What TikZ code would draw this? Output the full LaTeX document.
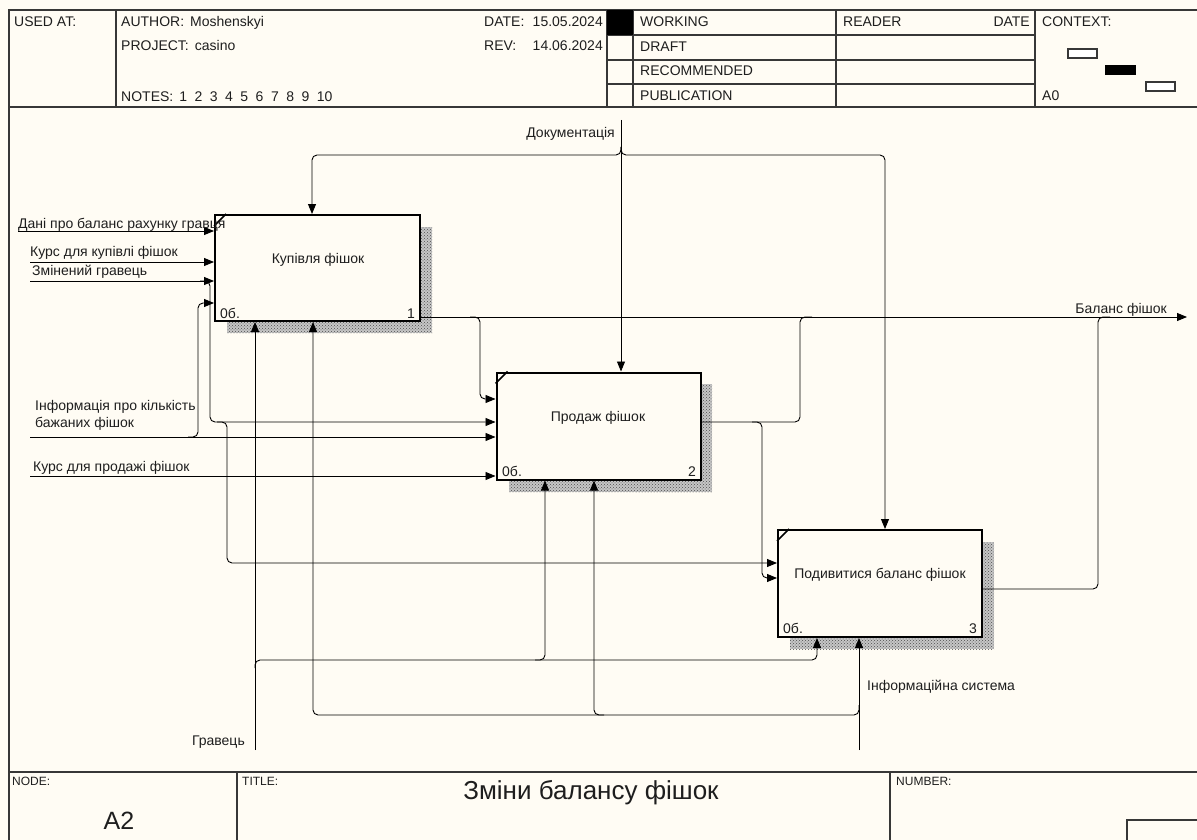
\documentclass[tikz,border=0pt]{standalone}
\usepackage{fontspec}
\setmainfont{Liberation Sans}
\usetikzlibrary{arrows.meta,patterns,calc}
\definecolor{bg}{RGB}{255,252,244}
\definecolor{frm}{RGB}{55,55,55}
\definecolor{txt}{RGB}{30,30,30}
\begin{document}
\begin{tikzpicture}[x=1pt,y=-1pt,
  lbl/.style={font=\fontsize{14}{16}\selectfont, text=txt, inner sep=0pt, anchor=base west},
  lble/.style={lbl, anchor=base east},
  lblc/.style={font=\fontsize{14}{16}\selectfont, text=txt, inner sep=0pt, anchor=center},
  small/.style={font=\fontsize{12}{14}\selectfont, text=txt, inner sep=0pt, anchor=base west},
  grid/.style={draw=frm, line width=1.3pt},
  box/.style={draw=black, line width=2pt, fill=bg, inner sep=0pt},
  shadebase/.style={fill=gray!45},
  shade/.style={pattern=crosshatch dots, pattern color=black!70},
  conn/.style={draw=black, line width=0.9pt, rounded corners=5pt},
  arr/.style={conn, -{Triangle[length=10pt,width=8pt]}},
  diag/.style={draw=black, line width=1.6pt}]
\fill[bg] (0,0) rectangle (1197,840);
\useasboundingbox (0,0) rectangle (1197,840);

% ---------- frame ----------
\draw[grid] (9,840) -- (9,10) -- (1197,10);
\draw[grid] (9,107) -- (1197,107);
\draw[grid] (9,772) -- (1197,772);
\draw[grid] (116,10) -- (116,107);
\draw[grid] (607,10) -- (607,107);
\draw[grid] (633,10) -- (633,107);
\draw[grid] (836,10) -- (836,107);
\draw[grid] (1035,10) -- (1035,107);
\draw[grid] (607,35) -- (1035,35);
\draw[grid] (607,60) -- (1035,60);
\draw[grid] (607,84) -- (1035,84);
\fill[black] (607,10) rectangle (633,35);
\draw[grid] (237,772) -- (237,840);
\draw[grid] (890,772) -- (890,840);
\draw[grid] (1127,840) -- (1127,820) -- (1197,820);

% ---------- header text ----------
\node[lbl] (usedat) at (14,27) {USED AT:};
\node[lbl] (author) at (121,27) {AUTHOR:\hspace{6pt}Moshenskyi};
\node[lbl] (project) at (121,51) {PROJECT:\hspace{6pt}casino};
\node[lbl] (notes) at (121,102) {NOTES:\hspace{6pt}1\hspace{7.5pt}2\hspace{7.5pt}3\hspace{7.5pt}4\hspace{7.5pt}5\hspace{7.5pt}6\hspace{7.5pt}7\hspace{7.5pt}8\hspace{7.5pt}9\hspace{7.5pt}10};
\node[lbl] (datel) at (484,27) {DATE:};
\node[lble] (datev) at (603,27) {15.05.2024};
\node[lbl] (revl) at (484,51) {REV:};
\node[lble] (revv) at (603,51) {14.06.2024};
\node[lbl] (working) at (640,27) {WORKING};
\node[lbl] (draft) at (640,52) {DRAFT};
\node[lbl] (recom) at (640,76) {RECOMMENDED};
\node[lbl] (publ) at (640,101) {PUBLICATION};
\node[lbl] (reader) at (843,27) {READER};
\node[lble] (rdate) at (1030,27) {DATE};
\node[lbl] (context) at (1042,27) {CONTEXT:};
\node[lbl] (a0) at (1042,101) {A0};
\draw[draw=frm, line width=1.2pt, fill=white] (1068,49) rectangle (1097,58);
\fill[black] (1105,65) rectangle (1136,75);
\draw[draw=frm, line width=1.2pt, fill=white] (1146,82) rectangle (1175,91);

% ---------- footer ----------
\node[small] (nodel) at (12,785) {NODE:};
\node[small] (titlel) at (242,785) {TITLE:};
\node[small] (numl) at (896,785) {NUMBER:};
\node[font=\fontsize{25}{30}\selectfont, text=txt, inner sep=0pt, anchor=base] (a2) at (119,829) {A2};
\node[font=\fontsize{26}{30}\selectfont, text=txt, inner sep=0pt, anchor=base] (title) at (591,799) {Зміни балансу фішок};

% ---------- boxes ----------
\fill[shadebase] (227,227) rectangle (432,333);
\fill[shadebase] (509,384) rectangle (712,492);
\fill[shadebase] (790,542) rectangle (994,649);
\fill[shade] (227,227) rectangle (432,333);
\fill[shade] (509,384) rectangle (712,492);
\fill[shade] (790,542) rectangle (994,649);
\node[box, minimum width=205pt, minimum height=106pt] (b1) at (317.5,268) {};
\node[box, minimum width=204pt, minimum height=107pt] (b2) at (598.5,426) {};
\node[box, minimum width=204pt, minimum height=107pt] (b3) at (880,583.5) {};
\draw[diag] ([yshift=-12pt]b1.north west) -- ([xshift=12pt]b1.north west);
\draw[diag] ([yshift=-12pt]b2.north west) -- ([xshift=12pt]b2.north west);
\draw[diag] ([yshift=-12pt]b3.north west) -- ([xshift=12pt]b3.north west);
\node[lblc] (t1) at (318,260) {Купівля фішок};
\node[lblc] (t2) at (598,418) {Продаж фішок};
\node[lblc] (t3) at (880,575) {Подивитися баланс фішок};
\node[lbl] (c1) at (220,318) {0б.};
\node[lble] (n1) at (415,318) {1};
\node[lbl] (c2) at (502,476) {0б.};
\node[lble] (n2) at (696,476) {2};
\node[lbl] (c3) at (783,633) {0б.};
\node[lble] (n3) at (977,633) {3};

% ---------- inputs ----------
\coordinate (i1) at (18,231);
\coordinate (i2) at (30,262);
\coordinate (i3) at (30,281);
\coordinate (i4) at (30,437);
\coordinate (i5) at (30,476);
\draw[arr] (i1) -- (i1 -| b1.west);
\draw[arr] (i2) -- (i2 -| b1.west);
\draw[arr] (i3) -- (i3 -| b1.west);
\draw[arr] (i4) -- (i4 -| b2.west);
\draw[arr] (i5) -- (i5 -| b2.west);
\coordinate (j3a) at (210,422);
\draw[arr] (200,281) -| (j3a) -- (j3a -| b2.west);
\coordinate (j3b) at (227,563);
\draw[arr] (217,422) -| (j3b) -- (j3b -| b3.west);
\coordinate (j4) at (198,303);
\draw[arr] (188,437) -| (j4) -- (j4 -| b1.west);

% ---------- outputs ----------
\coordinate (o1) at (1187,317);
\draw[arr] (b1.east |- o1) -- (o1);
\coordinate (j1) at (480,399);
\draw[arr] (470,317) -| (j1) -- (j1 -| b2.west);
\coordinate (o2) at (800,422);
\draw[conn] (b2.east |- o2) -- (o2) -- (800,317) -- (812,317);
\coordinate (j2) at (762,578);
\draw[arr] (752,422) -| (j2) -- (j2 -| b3.west);
\coordinate (o3) at (1098,589);
\draw[conn] (b3.east |- o3) -- (o3) -- (1098,317) -- (1110,317);

% ---------- controls ----------
\coordinate (k0) at (621,120);
\draw[arr] (k0) -- (k0 |- b2.north);
\coordinate (k1) at (312,155);
\coordinate (k3) at (885,155);
\draw[arr] (621,147) |- (k1) -- (k1 |- b1.north);
\draw[arr] (621,147) |- (k3) -- (k3 |- b3.north);

% ---------- mechanisms ----------
\coordinate (m1) at (255,750);
\draw[arr] (m1) -- (m1 |- b1.south);
\coordinate (m1b) at (817,660);
\draw[arr] (255,668) |- (m1b) -- (m1b |- b3.south);
\coordinate (m1c) at (545,660);
\draw[arr] (535,660) -| (m1c |- b2.south);
\coordinate (m2) at (859,750);
\draw[arr] (m2) -- (m2 |- b3.south);
\coordinate (m2b) at (313,715);
\draw[arr] (859,705) |- (m2b) -- (m2b |- b1.south);
\coordinate (m2c) at (594,715);
\draw[arr] (604,715) -| (m2c |- b2.south);

% ---------- arrow labels ----------
\node[lbl] (l1) at (18,228) {Дані про баланс рахунку гравця};
\node[lbl] (l2) at (30,256) {Курс для купівлі фішок};
\node[lbl] (l3) at (32,275) {Змінений гравець};
\node[lbl] (l4a) at (35,410) {Інформація про кількість};
\node[lbl] (l4b) at (35,427) {бажаних фішок};
\node[lbl] (l5) at (33,471) {Курс для продажі фішок};
\node[lble] (ldoc) at (615,138) {Документація};
\node[lble] (lbal) at (1167,313) {Баланс фішок};
\node[lble] (lgr) at (245,745) {Гравець};
\node[lbl] (lis) at (867,690) {Інформаційна система};
\end{tikzpicture}
\end{document}
